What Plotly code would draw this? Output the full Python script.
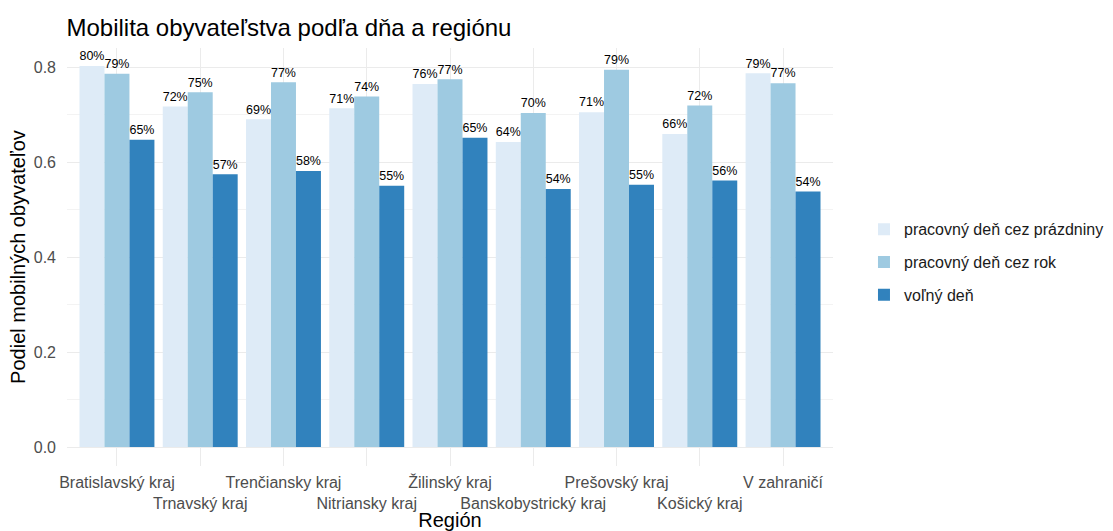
import plotly.graph_objects as go

regions = ["Bratislavský kraj", "Trnavský kraj", "Trenčiansky kraj", "Nitriansky kraj",
           "Žilinský kraj", "Banskobystrický kraj", "Prešovský kraj", "Košický kraj", "V zahraničí"]
series_names = ["pracovný deň cez prázdniny", "pracovný deň cez rok", "voľný deň"]
holiday_workday = [0.802, 0.717, 0.690, 0.713, 0.764, 0.642, 0.705, 0.659, 0.787]
year_workday = [0.786, 0.747, 0.768, 0.738, 0.774, 0.703, 0.794, 0.719, 0.766]
free_day = [0.647, 0.574, 0.581, 0.550, 0.651, 0.543, 0.552, 0.561, 0.538]
colors = ["#DEEBF7", "#9ECAE1", "#3182BD"]
y_ticks = [0.0, 0.2, 0.4, 0.6, 0.8]

values = [holiday_workday, year_workday, free_day]

W, H = 1113, 531
pl, pr, pt, pb = 66.5, 833, 47.7, 465.7

fig = go.Figure()
for i, (name, vals, col) in enumerate(zip(series_names, values, colors)):
    fig.add_trace(go.Bar(
        x=list(range(len(regions))), y=vals, name=name, legendgroup=f"g{i}",
        marker=dict(color=col, line=dict(width=0)),
        texttemplate="%{y:.0%}", textposition="outside",
        textfont=dict(size=14, color="#000000"),
        cliponaxis=False,
    ))

ticktext = [r if i % 2 == 0 else "<br>" + r for i, r in enumerate(regions)]

fig.update_layout(
    width=W, height=H,
    margin=dict(l=pl, r=W - pr, t=pt, b=H - pb, autoexpand=False),
    barmode="group", bargap=0.1, bargroupgap=0,
    plot_bgcolor="white", paper_bgcolor="white",
    font=dict(family="Liberation Sans, Arial, sans-serif", color="#000000"),
    title=dict(text="Mobilita obyvateľstva podľa dňa a regiónu", x=pl / W, xanchor="left",
               y=1 - 28 / H, yanchor="middle", font=dict(size=24, color="#000000")),
    uniformtext=dict(mode=False),
    legend=dict(x=(864 - pl) / (pr - pl), xanchor="left", y=(pb - 262) / (pb - pt), yanchor="middle",
                font=dict(size=16, color="#1a1a1a"), bgcolor="rgba(0,0,0,0)",
                tracegroupgap=9, traceorder="grouped"),
)
fig.update_xaxes(
    range=[-0.6, len(regions) - 0.4],
    tickmode="array", tickvals=list(range(len(regions))), ticktext=ticktext,
    tickangle=0, ticklabelstandoff=5,
    tickfont=dict(size=16, color="#4D4D4D"),
    showgrid=True, gridcolor="#EBEBEB", gridwidth=1, zeroline=False, showline=False,
    ticks="",
    title=dict(text="Región", font=dict(size=20, color="#000000"), standoff=0),
)
fig.update_yaxes(
    range=[-0.04, 0.84],
    tickmode="array", tickvals=y_ticks, tickformat=".1f", ticklabelstandoff=10,
    tickfont=dict(size=16, color="#4D4D4D"),
    showgrid=True, gridcolor="#EBEBEB", gridwidth=1, zeroline=False, showline=False,
    ticks="",
    minor=dict(tickmode="array", tickvals=[0.1, 0.3, 0.5, 0.7], showgrid=True, gridcolor="#F3F3F3", gridwidth=0.6),
    title=dict(text="Podiel mobilných obyvateľov", font=dict(size=20, color="#000000"), standoff=2),
)

fig.write_html("out.html", config={"displayModeBar": False})
with open("out.html", encoding="utf-8") as f:
    html = f.read()
html = html.replace("<body>", '<body style="margin:0;padding:0;overflow:hidden">', 1)
with open("out.html", "w", encoding="utf-8") as f:
    f.write(html)
